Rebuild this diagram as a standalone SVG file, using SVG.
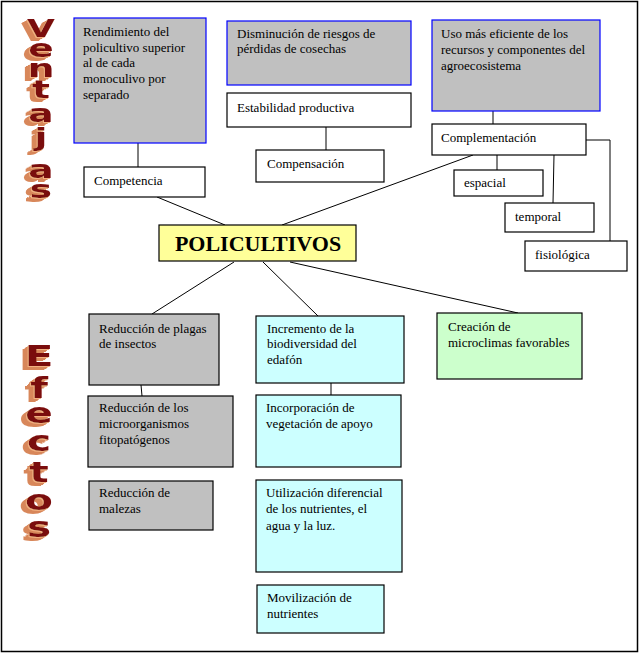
<svg xmlns="http://www.w3.org/2000/svg" width="639" height="654" viewBox="0 0 639 654">
<style>
.t{font-family:"Liberation Serif","Times New Roman",serif;font-size:13px;fill:#000}
.gray{fill:#C0C0C0;stroke:#0000FF;stroke-width:1.2}
.grayk{fill:#C0C0C0;stroke:#000;stroke-width:1.2}
.wht{fill:#FFFFFF;stroke:#000;stroke-width:1.2}
.cyan{fill:#CCFFFF;stroke:#000;stroke-width:1.2}
.grn{fill:#CCFFCC;stroke:#000;stroke-width:1.2}
.yel{fill:#FFFF99;stroke:#000;stroke-width:1.2}
.ln{stroke:#000;stroke-width:1;fill:none}
.wa{font-family:"DejaVu Sans",sans-serif;font-weight:bold;text-anchor:middle;fill:#7A0A0A;filter:url(#ext)}
</style>
<defs>
<filter id="ext" x="-50%" y="-50%" width="200%" height="200%">
<feOffset in="SourceAlpha" dx="-1" dy="1" result="o1"/>
<feOffset in="SourceAlpha" dx="-2" dy="2" result="o2"/>
<feOffset in="SourceAlpha" dx="-3" dy="3" result="o3"/>
<feOffset in="SourceAlpha" dx="-4" dy="4" result="o4"/>
<feMerge result="m"><feMergeNode in="o1"/><feMergeNode in="o2"/><feMergeNode in="o3"/><feMergeNode in="o4"/></feMerge>
<feFlood flood-color="#D8875A" result="c"/>
<feComposite operator="in" in="c" in2="m" result="sh"/>
<feFlood flood-color="#F2B080" result="c2"/>
<feComposite operator="in" in="c2" in2="o1" result="hl"/>
<feMerge><feMergeNode in="sh"/><feMergeNode in="hl"/><feMergeNode in="SourceGraphic"/></feMerge>
</filter>
</defs>
<rect x="1.5" y="1.5" width="636" height="650" fill="#FFFFFF" stroke="#000" stroke-width="1.5"/>

<g id="connectors">
<line class="ln" x1="138" y1="143" x2="138" y2="167"/>
<line class="ln" x1="326" y1="127" x2="326" y2="150"/>
<line class="ln" x1="493" y1="111" x2="493" y2="124"/>
<line class="ln" x1="497" y1="155" x2="497" y2="170"/>
<line class="ln" x1="554" y1="155" x2="553" y2="203"/>
<polyline class="ln" points="586,140 610,140 610,241"/>
<line class="ln" x1="157" y1="197" x2="225" y2="225"/>
<line class="ln" x1="473" y1="155" x2="282" y2="225"/>
<line class="ln" x1="234" y1="262" x2="152" y2="314"/>
<line class="ln" x1="263" y1="262" x2="318" y2="316"/>
<line class="ln" x1="290" y1="262" x2="518" y2="313"/>
<line class="ln" x1="141" y1="385" x2="142" y2="396"/>
<line class="ln" x1="331" y1="383" x2="331" y2="395"/>
</g>

<g id="ventajas" transform="translate(41,0) scale(1.5,1)">
<text class="wa" font-size="24"><tspan x="0" y="37">V</tspan><tspan x="0" y="57" font-size="25">e</tspan><tspan x="0" y="77" font-size="25">n</tspan><tspan x="0" y="98" font-size="25">t</tspan><tspan x="0" y="122" font-size="25">a</tspan><tspan x="0" y="146" font-size="25">j</tspan><tspan x="0" y="178" font-size="25">a</tspan><tspan x="0" y="198" font-size="25">s</tspan></text>
</g>

<g id="efectos" transform="translate(39,0) scale(1.45,1)">
<text class="wa" font-size="28"><tspan x="0" y="366" font-size="29">E</tspan><tspan x="0" y="398">f</tspan><tspan x="0" y="423">e</tspan><tspan x="0" y="451">c</tspan><tspan x="0" y="482">t</tspan><tspan x="0" y="510">o</tspan><tspan x="0" y="537">s</tspan></text>
</g>

<g id="rendimiento"><rect class="gray" x="74" y="18" width="132" height="125"/>
<text class="t" x="83" y="36">Rendimiento del</text><text class="t" x="83" y="52">policultivo superior</text><text class="t" x="83" y="67">al de cada</text><text class="t" x="83" y="83">monoculivo por</text><text class="t" x="83" y="99">separado</text></g>
<g id="competencia"><rect class="wht" x="84" y="167" width="121" height="30"/><text class="t" x="94" y="185">Competencia</text></g>
<g id="disminucion"><rect class="gray" x="227" y="21" width="184" height="64"/>
<text class="t" x="237" y="38">Disminución de riesgos de</text><text class="t" x="237" y="53">pérdidas de cosechas</text></g>
<g id="estabilidad"><rect class="wht" x="227" y="93" width="184" height="34"/><text class="t" x="237" y="112">Estabilidad productiva</text></g>
<g id="compensacion"><rect class="wht" x="256" y="150" width="128" height="32"/><text class="t" x="267" y="168">Compensación</text></g>
<g id="uso"><rect class="gray" x="432" y="20" width="168" height="91"/>
<text class="t" x="441" y="38">Uso más eficiente de los</text><text class="t" x="441" y="54">recursos y componentes del</text><text class="t" x="441" y="70">agroecosistema</text></g>
<g id="complementacion"><rect class="wht" x="432" y="124" width="154" height="31"/><text class="t" x="441" y="142">Complementación</text></g>
<g id="espacial"><rect class="wht" x="454" y="170" width="89" height="26"/><text class="t" x="464" y="187">espacial</text></g>
<g id="temporal"><rect class="wht" x="505" y="203" width="89" height="29"/><text class="t" x="515" y="221">temporal</text></g>
<g id="fisiologica"><rect class="wht" x="525" y="241" width="102" height="30"/><text class="t" x="535" y="259">fisiológica</text></g>

<g id="policultivos"><rect class="yel" x="159" y="225" width="197" height="36"/>
<text x="258" y="251" text-anchor="middle" font-family="Liberation Serif, Times New Roman, serif" font-weight="bold" font-size="22">POLICULTIVOS</text></g>

<g id="plagas"><rect class="grayk" x="89" y="314" width="130" height="71"/>
<text class="t" x="99" y="333">Reducción de plagas</text><text class="t" x="99" y="348">de insectos</text></g>
<g id="incremento"><rect class="cyan" x="256" y="316" width="148" height="67"/>
<text class="t" x="267" y="333">Incremento de la</text><text class="t" x="267" y="348">biodiversidad del</text><text class="t" x="267" y="364">edafón</text></g>
<g id="microclimas"><rect class="grn" x="437" y="313" width="145" height="66"/>
<text class="t" x="448" y="331">Creación de</text><text class="t" x="448" y="347">microclimas favorables</text></g>
<g id="microorganismos"><rect class="grayk" x="88" y="396" width="145" height="71"/>
<text class="t" x="99" y="412">Reducción de los</text><text class="t" x="99" y="428">microorganismos</text><text class="t" x="99" y="444">fitopatógenos</text></g>
<g id="malezas"><rect class="grayk" x="89" y="481" width="124" height="49"/>
<text class="t" x="99" y="497">Reducción de</text><text class="t" x="99" y="513">malezas</text></g>
<g id="incorporacion"><rect class="cyan" x="256" y="395" width="145" height="72"/>
<text class="t" x="266" y="412">Incorporación de</text><text class="t" x="266" y="428">vegetación de apoyo</text></g>
<g id="utilizacion"><rect class="cyan" x="256" y="480" width="146" height="92"/>
<text class="t" x="266" y="497">Utilización diferencial</text><text class="t" x="266" y="513">de los nutrientes, el</text><text class="t" x="266" y="530">agua y la luz.</text></g>
<g id="movilizacion"><rect class="cyan" x="257" y="585" width="127" height="48"/>
<text class="t" x="267" y="602">Movilización de</text><text class="t" x="267" y="618">nutrientes</text></g>
</svg>
